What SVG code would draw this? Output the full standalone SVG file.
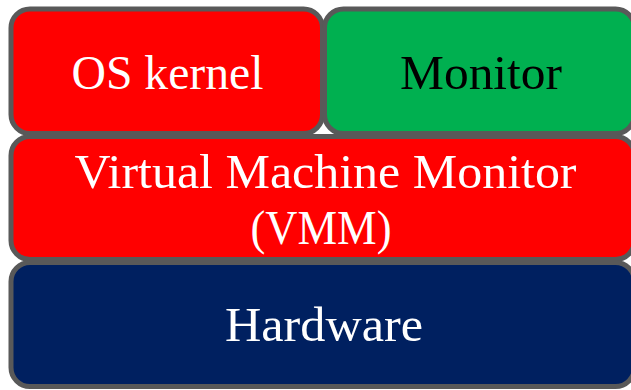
<svg xmlns="http://www.w3.org/2000/svg" width="631" height="390" viewBox="0 0 631 390">
  <style>
    .box { stroke: #595959; stroke-width: 5; }
    .label { font-family: "Liberation Serif", "DejaVu Serif", serif; font-size: 48px; text-anchor: middle; }
    .light { fill: #ffffff; }
    .dark { fill: #000000; }
  </style>
  <rect width="631" height="390" fill="#ffffff"/>
  <g id="os-kernel">
    <rect class="box" x="11" y="9" width="311.5" height="124.5" rx="19" fill="#ff0000"/>
    <text class="label light" x="167.5" y="89" textLength="192" lengthAdjust="spacingAndGlyphs">OS kernel</text>
  </g>
  <g id="monitor">
    <rect class="box" x="324.5" y="9" width="310" height="124.5" rx="19" fill="#00b050"/>
    <text class="label dark" x="481" y="89" textLength="162" lengthAdjust="spacingAndGlyphs">Monitor</text>
  </g>
  <g id="vmm">
    <rect class="box" x="11" y="136.5" width="623.5" height="123" rx="19" fill="#ff0000"/>
    <text class="label light" x="325.5" y="188" textLength="502" lengthAdjust="spacingAndGlyphs">Virtual Machine Monitor</text>
    <text class="label light" x="321" y="244" textLength="141" lengthAdjust="spacingAndGlyphs">(VMM)</text>
  </g>
  <g id="hardware">
    <rect class="box" x="11" y="262.5" width="623.5" height="124" rx="19" fill="#002060"/>
    <text class="label light" x="324" y="341" textLength="198" lengthAdjust="spacingAndGlyphs">Hardware</text>
  </g>
  <g id="connectors"></g>
</svg>
